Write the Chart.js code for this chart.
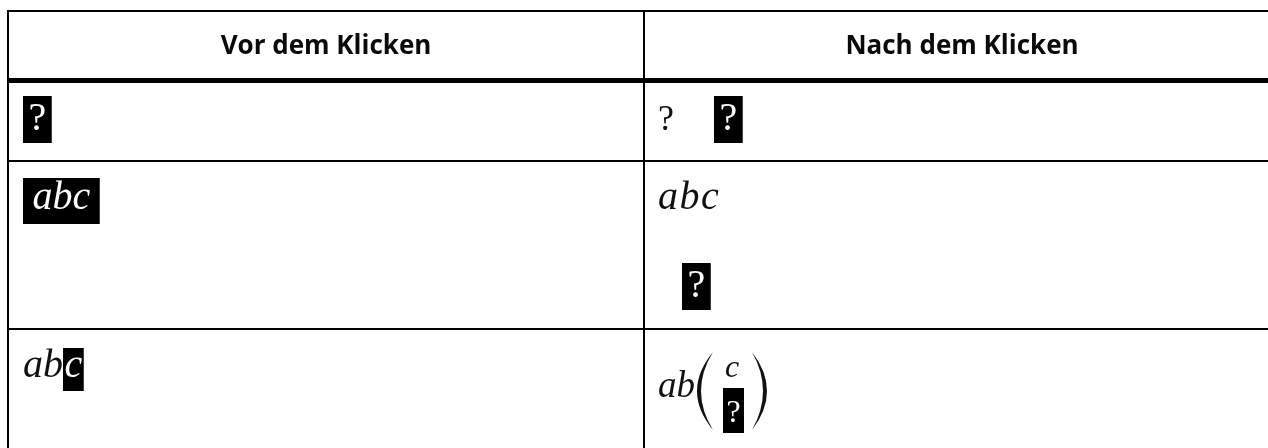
<!DOCTYPE html>
<html>
<head>
<meta charset="utf-8">
<script src="https://cdn.jsdelivr.net/npm/chart.js@4.4.1/dist/chart.umd.min.js"></script>
<style>
    html, body { margin: 0; padding: 0; background: #fff; overflow: hidden; }
    .wrap { width: 1290px; height: 448px; }
</style>
</head>
<body>
<div class="wrap"><canvas id="table" width="1290" height="448"></canvas></div>
<script>
// column headers
const headers = ['Vor dem Klicken', 'Nach dem Klicken'];

// cell contents, one entry per row, each cell is a list of lines made of tokens
const before = [
    [[{ t: '?', s: 'box' }]],
    [[{ t: 'abc', s: 'boxit' }]],
    [[{ t: 'ab', s: 'it' }, { t: 'c', s: 'boxc' }]],
];
const after = [
    [[{ t: '?', s: 'q' }, { t: '', s: 'quad' }, { t: '?', s: 'box' }]],
    [[{ t: 'abc', s: 'itw' }], [{ t: '', s: 'indent' }, { t: '?', s: 'box' }]],
    [[{ t: 'ab', s: 'it2' }, { t: 'c', b: '?', s: 'binom' }]],
];

const serif = '"Liberation Serif", "DejaVu Serif", serif';
const styles = {
    q: { font: '36px ' + serif },
    it: { font: 'italic 40px ' + serif },
    itw: { font: 'italic 40px ' + serif, spacing: '1.5px' },
    it2: { font: 'italic 37px ' + serif },
    box: { font: '40px ' + serif, pad: 5.5, up: 34, down: 13 },
    boxit: { font: 'italic 40px ' + serif, pad: 9.5, up: 31, down: 15 },
    boxc: { font: 'italic 40px ' + serif, pad: 1.5, up: 29, down: 14 },
    quad: { gap: 40 },
    indent: { gap: 24 },
    binom: {},
};

// y of horizontal rules (top edge) and their thickness
const rules = [[10, 2], [78, 5], [160, 2], [328, 2]];
const rowTops = [83, 162, 330];

function drawParen(ctx, x1, x2, y1, y2, dir) {
    // crescent shaped bracket, dir = 1 for "(" and -1 for ")"
    const mid = (y1 + y2) / 2;
    const tip = dir > 0 ? x2 : x1;
    const bulge = dir > 0 ? x1 : x2;
    ctx.beginPath();
    ctx.moveTo(tip, y1);
    ctx.quadraticCurveTo(2 * bulge - tip, mid, tip, y2);
    ctx.quadraticCurveTo(2 * bulge - tip + dir * 8, mid, tip, y1);
    ctx.fill();
}

function drawToken(ctx, tok, x, base) {
    const st = styles[tok.s];
    if (tok.s === 'binom') {
        ctx.fillStyle = '#111';
        drawParen(ctx, x + 2, x + 18, base - 45, base + 33, 1);
        ctx.font = 'italic 32px ' + serif;
        ctx.textAlign = 'center';
        ctx.fillText(tok.t, x + 37, base - 20);
        ctx.fillStyle = '#000';
        ctx.fillRect(x + 28, base - 9, 21, 45);
        ctx.fillStyle = '#fff';
        ctx.font = '32px ' + serif;
        ctx.fillText(tok.b, x + 38.5, base + 25);
        ctx.fillStyle = '#111';
        drawParen(ctx, x + 57, x + 72, base - 45, base + 33, -1);
        ctx.textAlign = 'left';
        return 74;
    }
    if (st.gap) return st.gap;
    ctx.font = st.font;
    ctx.letterSpacing = st.spacing || '0px';
    const w = ctx.measureText(tok.t).width;
    let adv = w;
    if (st.pad !== undefined) {
        ctx.fillStyle = '#000';
        ctx.fillRect(x, base - st.up, w + 2 * st.pad, st.up + st.down);
        ctx.fillStyle = '#fff';
        ctx.fillText(tok.t, x + st.pad, base);
        adv = w + 2 * st.pad;
    } else {
        ctx.fillStyle = '#111';
        ctx.fillText(tok.t, x, base);
    }
    ctx.letterSpacing = '0px';
    return adv;
}

const tablePlugin = {
    id: 'tablePlugin',
    afterDraw(chart) {
        const ctx = chart.ctx;
        const sx = chart.scales.x;
        const colX = [0, 1, 2].map(v => sx.getPixelForValue(v));
        const bottom = chart.height;
        ctx.save();
        ctx.fillStyle = '#000';
        for (const [y, h] of rules) {
            ctx.fillRect(colX[0] - 1, y, colX[2] - colX[0] + 2, h);
        }
        for (const x of colX) {
            ctx.fillRect(x - 1, 10, 2, bottom - 10);
        }

        ctx.font = 'bold 26px "Open Sans", Lato, sans-serif';
        ctx.fillStyle = '#0a0a0a';
        ctx.textAlign = 'center';
        ctx.textBaseline = 'alphabetic';
        headers.forEach((h, i) => {
            ctx.fillText(h, (colX[i] + colX[i + 1]) / 2, 54);
        });

        ctx.textAlign = 'left';
        [before, after].forEach((col, c) => {
            col.forEach((cell, r) => {
                cell.forEach((line, li) => {
                    let x = colX[c] + (c === 0 ? 15 : 14);
                    let base = rowTops[r] + 47 + li * 88;
                    if (line.some(t => t.s === 'binom')) base += 20;
                    for (const tok of line) {
                        x += drawToken(ctx, tok, x, base);
                    }
                });
            });
        });
        ctx.restore();
    }
};

new Chart(document.getElementById('table'), {
    type: 'scatter',
    data: { datasets: [] },
    options: {
        responsive: false,
        animation: false,
        layout: { padding: { left: 8, right: 10, top: 0, bottom: 0 } },
        scales: {
            x: { type: 'linear', min: 0, max: 2, display: false },
            y: { type: 'linear', min: 0, max: 1, display: false },
        },
        plugins: {
            legend: { display: false },
            tooltip: { enabled: false },
        }
    },
    plugins: [tablePlugin]
});
</script>
</body>
</html>
